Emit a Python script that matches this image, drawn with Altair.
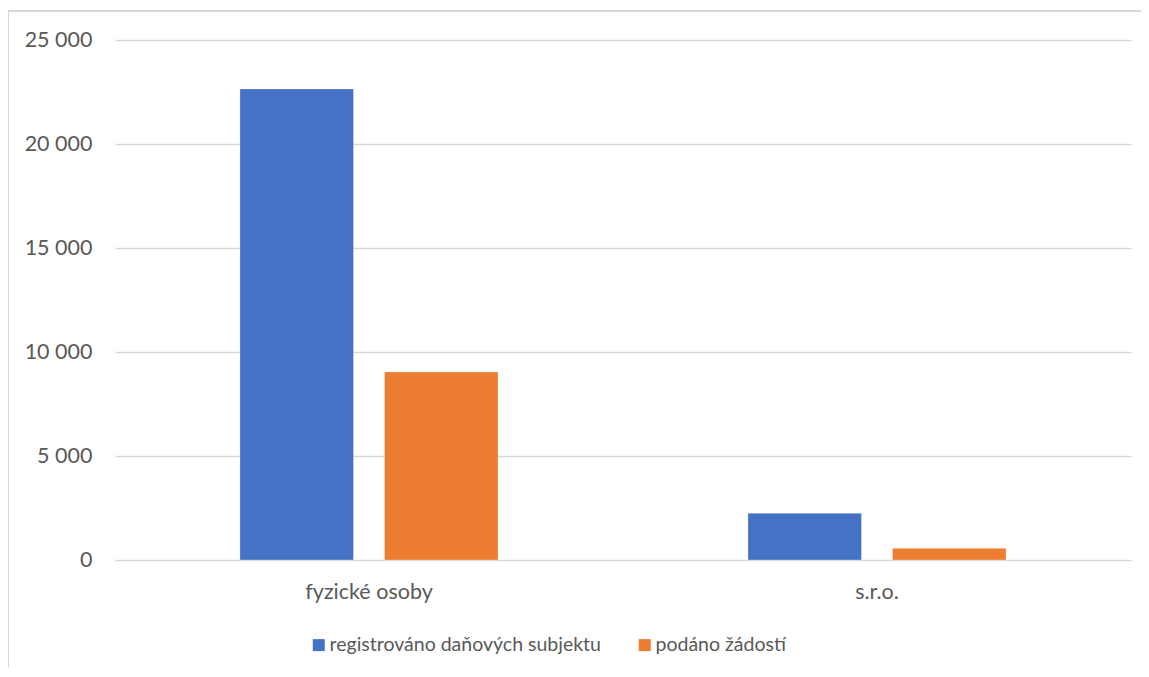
import altair as alt
import pandas as pd

categories = ["fyzické osoby", "s.r.o."]
series = ["registrováno daňových subjektu", "podáno žádostí"]
registered = [22650, 2250]
applied = [9040, 560]
colors = ["#4472C4", "#ED7D31"]
y_ticks = [0, 5000, 10000, 15000, 20000, 25000]

rows = []
for i, c in enumerate(categories):
    rows.append({"kategorie": c, "serie": series[0], "hodnota": registered[i]})
    rows.append({"kategorie": c, "serie": series[1], "hodnota": applied[i]})
df = pd.DataFrame(rows)

FONT = "Lato"
TXT = "#595959"
GRID = "#d9d9d9"

bars = alt.Chart(df).mark_bar(stroke="white", strokeWidth=0.5, strokeOpacity=0.6).encode(
    x=alt.X("kategorie:N", sort=categories, title=None,
            scale=alt.Scale(paddingInner=0.492, paddingOuter=0.246),
            axis=alt.Axis(labelAngle=0, ticks=False, domain=True, domainColor=GRID,
                          labelPadding=21, labelFontSize=21.5, labelColor=TXT,
                          labelFont=FONT, grid=False)),
    xOffset=alt.XOffset("serie:N", sort=series,
                        scale=alt.Scale(paddingInner=0.2145, paddingOuter=0)),
    y=alt.Y("hodnota:Q", title=None,
            scale=alt.Scale(domain=[0, 25000], nice=False),
            axis=alt.Axis(values=y_ticks, ticks=False, domain=False, grid=True,
                          gridColor=GRID, gridWidth=1.3, labelPadding=23,
                          labelFontSize=21.5, labelColor=TXT, labelFont=FONT,
                          labelExpr="replace(format(datum.value, ','), ',', ' ')")),
    color=alt.Color("serie:N", sort=series,
                    scale=alt.Scale(domain=series, range=colors),
                    legend=alt.Legend(title=None, orient="none", direction="horizontal",
                                      legendX=194, legendY=595,
                                      symbolType="square", symbolSize=144,
                                      symbolStrokeWidth=0, labelFontSize=19.5,
                                      labelColor=TXT, labelFont=FONT, labelLimit=0,
                                      columnPadding=34, symbolOffset=0,
                                      labelOffset=1)),
)

frame = alt.Chart(df).mark_rect(fill=None, stroke=GRID, strokeWidth=1.5, clip=False).encode(
    x=alt.value(-107), x2=alt.value(1060), y=alt.value(-29), y2=alt.value(700)
)

chart = alt.layer(frame, bars).properties(
    width=1016, height=520,
    background="white",
    autosize=alt.AutoSizeParams(type="none"),
    padding={"left": 107, "top": 32, "right": 10, "bottom": 108},
).configure_view(strokeOpacity=0, strokeWidth=0)

chart.save("out.html", embed_options={"renderer": "svg", "actions": False})
